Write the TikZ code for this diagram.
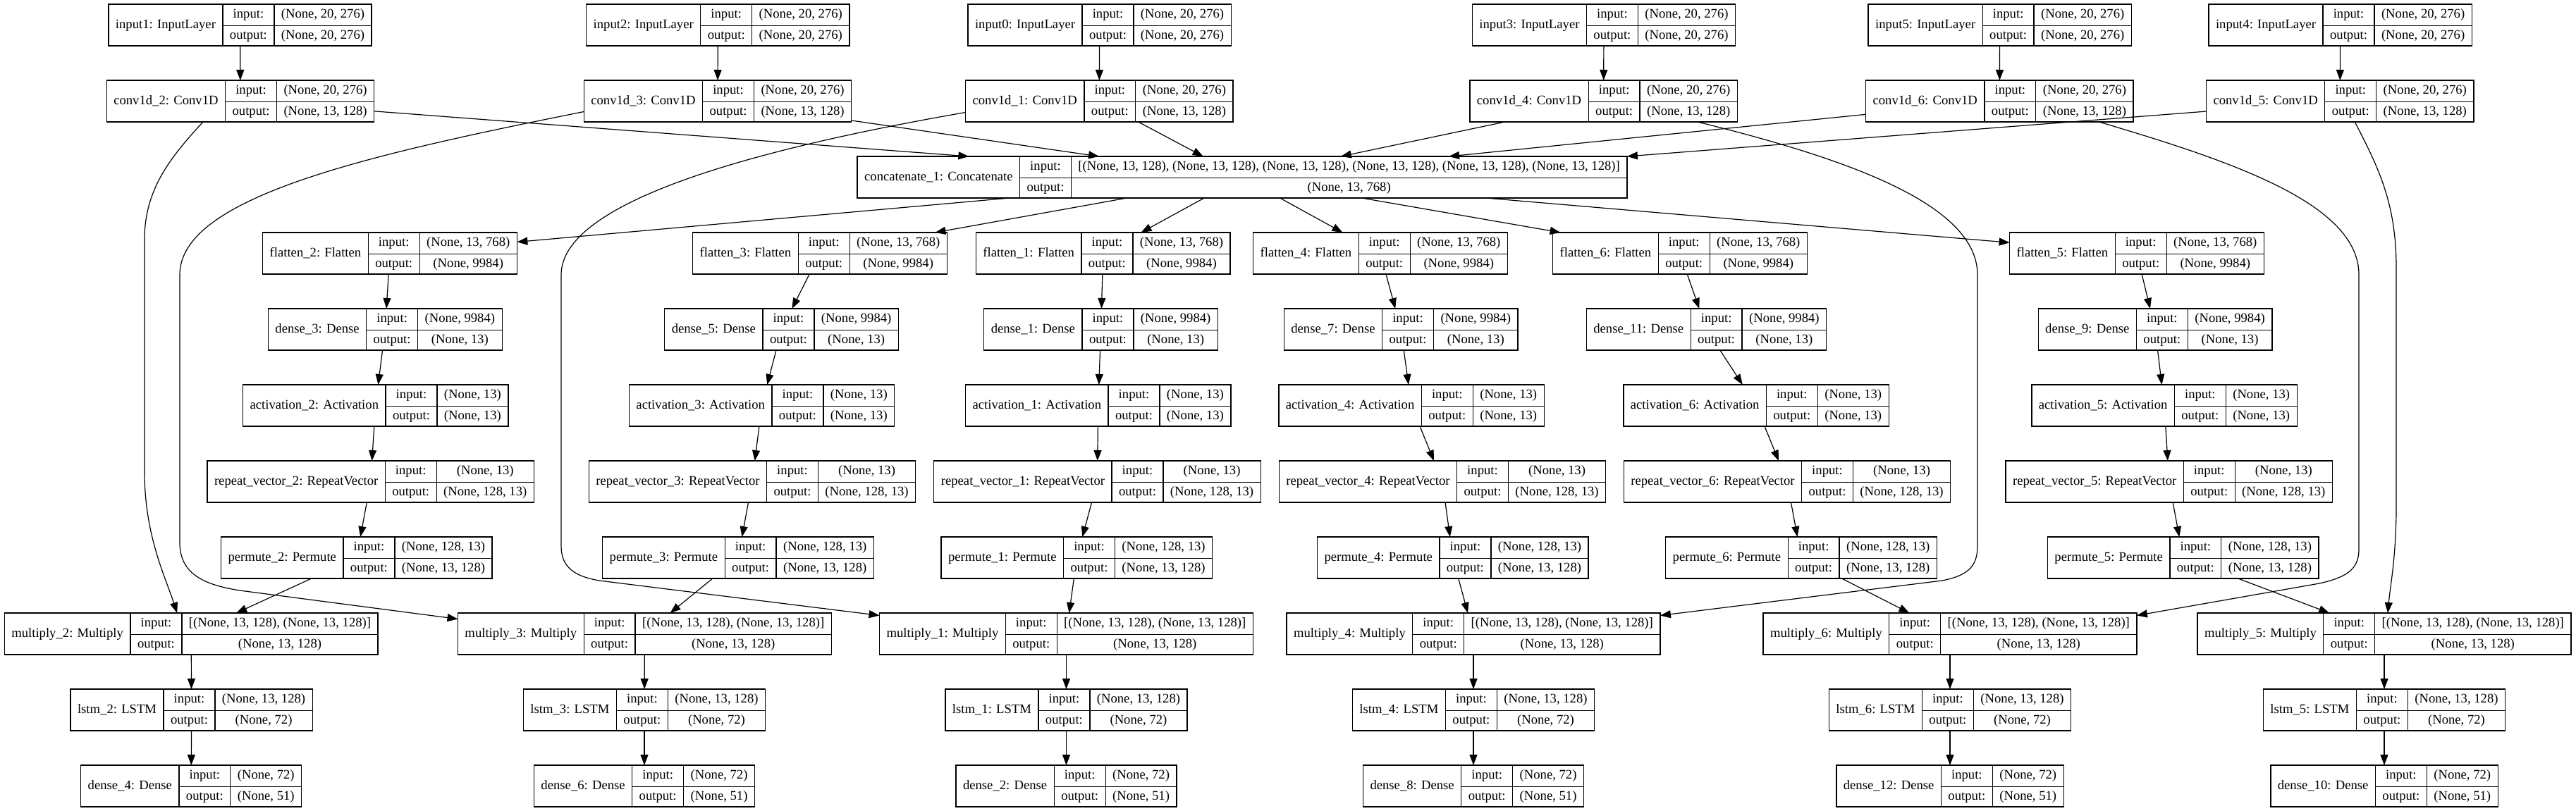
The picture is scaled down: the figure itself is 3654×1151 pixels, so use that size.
\documentclass[tikz,border=0pt]{standalone}
\usepackage{fontspec}
\setmainfont{Liberation Serif}
\usetikzlibrary{arrows.meta}

\setlength\tabcolsep{10pt}
\setlength\arrayrulewidth{1.3pt}
\newcommand\cellfont{\fontsize{18.67pt}{22pt}\selectfont}
\newcommand\rowstrut{\rule[-10pt]{0pt}{29.5pt}}

\tikzset{
    record/.style={draw, line width=1.3pt, inner sep=0pt, outer sep=0pt, font=\cellfont},
    edge/.style={line width=1.2pt, -{Triangle[length=15pt,width=11pt]}},
}

% record node: name, centre x, top y, title, input shape, output shape
\newcommand\layer[6]{%
    \node[record, anchor=north] (#1) at (#2,#3) {%
        \begin{tabular}{c|c|c}
            \raisebox{-15pt}[0pt][0pt]{#4} & input: & #5\rowstrut\\ \cline{2-3}
             & output: & #6\rowstrut
        \end{tabular}};
}

\begin{document}
\begin{tikzpicture}[x=1pt, y=-1pt]
    \fill[white] (0,0) rectangle (3654,1151);
    \useasboundingbox (0,0) rectangle (3654,1151);

    \layer{in1}{340.5}{6}{input1: InputLayer}{(None, 20, 276)}{(None, 20, 276)}
    \layer{in2}{1018.3}{6}{input2: InputLayer}{(None, 20, 276)}{(None, 20, 276)}
    \layer{in0}{1559.6}{6}{input0: InputLayer}{(None, 20, 276)}{(None, 20, 276)}
    \layer{in3}{2275}{6}{input3: InputLayer}{(None, 20, 276)}{(None, 20, 276)}
    \layer{in5}{2836.7}{6}{input5: InputLayer}{(None, 20, 276)}{(None, 20, 276)}
    \layer{in4}{3319.6}{6}{input4: InputLayer}{(None, 20, 276)}{(None, 20, 276)}

    \layer{conv2}{341}{114}{conv1d\_2: Conv1D}{(None, 20, 276)}{(None, 13, 128)}
    \layer{conv3}{1018}{114}{conv1d\_3: Conv1D}{(None, 20, 276)}{(None, 13, 128)}
    \layer{conv1}{1559.3}{114}{conv1d\_1: Conv1D}{(None, 20, 276)}{(None, 13, 128)}
    \layer{conv4}{2274.6}{114}{conv1d\_4: Conv1D}{(None, 20, 276)}{(None, 13, 128)}
    \layer{conv6}{2836.3}{114}{conv1d\_6: Conv1D}{(None, 20, 276)}{(None, 13, 128)}
    \layer{conv5}{3319.2}{114}{conv1d\_5: Conv1D}{(None, 20, 276)}{(None, 13, 128)}

    \layer{concat}{1762}{222}{concatenate\_1: Concatenate}{[(None, 13, 128), (None, 13, 128), (None, 13, 128), (None, 13, 128), (None, 13, 128), (None, 13, 128)]}{(None, 13, 768)}

    \layer{flat2}{553}{330}{flatten\_2: Flatten}{(None, 13, 768)}{(None, 9984)}
    \layer{flat3}{1163}{330}{flatten\_3: Flatten}{(None, 13, 768)}{(None, 9984)}
    \layer{flat1}{1564.7}{330}{flatten\_1: Flatten}{(None, 13, 768)}{(None, 9984)}
    \layer{flat4}{1958}{330}{flatten\_4: Flatten}{(None, 13, 768)}{(None, 9984)}
    \layer{flat6}{2383}{330}{flatten\_6: Flatten}{(None, 13, 768)}{(None, 9984)}
    \layer{flat5}{3031}{330}{flatten\_5: Flatten}{(None, 13, 768)}{(None, 9984)}

    \layer{dense3}{546.3}{438}{dense\_3: Dense}{(None, 9984)}{(None, 13)}
    \layer{dense5}{1108.6}{438}{dense\_5: Dense}{(None, 9984)}{(None, 13)}
    \layer{dense1}{1561.6}{438}{dense\_1: Dense}{(None, 9984)}{(None, 13)}
    \layer{dense7}{1987.2}{438}{dense\_7: Dense}{(None, 9984)}{(None, 13)}
    \layer{dense11}{2420.5}{438}{dense\_11: Dense}{(None, 9984)}{(None, 13)}
    \layer{dense9}{3057}{438}{dense\_9: Dense}{(None, 9984)}{(None, 13)}

    \layer{act2}{532.7}{546}{activation\_2: Activation}{(None, 13)}{(None, 13)}
    \layer{act3}{1080.6}{546}{activation\_3: Activation}{(None, 13)}{(None, 13)}
    \layer{act1}{1557.7}{546}{activation\_1: Activation}{(None, 13)}{(None, 13)}
    \layer{act4}{2002}{546}{activation\_4: Activation}{(None, 13)}{(None, 13)}
    \layer{act6}{2491}{546}{activation\_6: Activation}{(None, 13)}{(None, 13)}
    \layer{act5}{3070}{546}{activation\_5: Activation}{(None, 13)}{(None, 13)}

    \layer{rep2}{525.7}{654}{repeat\_vector\_2: RepeatVector}{(None, 13)}{(None, 128, 13)}
    \layer{rep3}{1067}{654}{repeat\_vector\_3: RepeatVector}{(None, 13)}{(None, 128, 13)}
    \layer{rep1}{1556.5}{654}{repeat\_vector\_1: RepeatVector}{(None, 13)}{(None, 128, 13)}
    \layer{rep4}{2046}{654}{repeat\_vector\_4: RepeatVector}{(None, 13)}{(None, 128, 13)}
    \layer{rep6}{2535}{654}{repeat\_vector\_6: RepeatVector}{(None, 13)}{(None, 128, 13)}
    \layer{rep5}{3076.7}{654}{repeat\_vector\_5: RepeatVector}{(None, 13)}{(None, 128, 13)}

    \layer{perm2}{505.8}{762}{permute\_2: Permute}{(None, 128, 13)}{(None, 13, 128)}
    \layer{perm3}{1047}{762}{permute\_3: Permute}{(None, 128, 13)}{(None, 13, 128)}
    \layer{perm1}{1527.4}{762}{permute\_1: Permute}{(None, 128, 13)}{(None, 13, 128)}
    \layer{perm4}{2060.8}{762}{permute\_4: Permute}{(None, 128, 13)}{(None, 13, 128)}
    \layer{perm6}{2555}{762}{permute\_6: Permute}{(None, 128, 13)}{(None, 13, 128)}
    \layer{perm5}{3096.7}{762}{permute\_5: Permute}{(None, 128, 13)}{(None, 13, 128)}

    \layer{mul2}{271.2}{870}{multiply\_2: Multiply}{[(None, 13, 128), (None, 13, 128)]}{(None, 13, 128)}
    \layer{mul3}{914.4}{870}{multiply\_3: Multiply}{[(None, 13, 128), (None, 13, 128)]}{(None, 13, 128)}
    \layer{mul1}{1512.5}{870}{multiply\_1: Multiply}{[(None, 13, 128), (None, 13, 128)]}{(None, 13, 128)}
    \layer{mul4}{2090}{870}{multiply\_4: Multiply}{[(None, 13, 128), (None, 13, 128)]}{(None, 13, 128)}
    \layer{mul6}{2766}{870}{multiply\_6: Multiply}{[(None, 13, 128), (None, 13, 128)]}{(None, 13, 128)}
    \layer{mul5}{3382}{870}{multiply\_5: Multiply}{[(None, 13, 128), (None, 13, 128)]}{(None, 13, 128)}

    \layer{lstm2}{271.6}{978}{lstm\_2: LSTM}{(None, 13, 128)}{(None, 72)}
    \layer{lstm3}{914}{978}{lstm\_3: LSTM}{(None, 13, 128)}{(None, 72)}
    \layer{lstm1}{1512.5}{978}{lstm\_1: LSTM}{(None, 13, 128)}{(None, 72)}
    \layer{lstm4}{2090}{978}{lstm\_4: LSTM}{(None, 13, 128)}{(None, 72)}
    \layer{lstm6}{2766}{978}{lstm\_6: LSTM}{(None, 13, 128)}{(None, 72)}
    \layer{lstm5}{3382}{978}{lstm\_5: LSTM}{(None, 13, 128)}{(None, 72)}

    \layer{dense4}{271.2}{1086}{dense\_4: Dense}{(None, 72)}{(None, 51)}
    \layer{dense6}{914}{1086}{dense\_6: Dense}{(None, 72)}{(None, 51)}
    \layer{dense2}{1512.5}{1086}{dense\_2: Dense}{(None, 72)}{(None, 51)}
    \layer{dense8}{2090}{1086}{dense\_8: Dense}{(None, 72)}{(None, 51)}
    \layer{dense12}{2766}{1086}{dense\_12: Dense}{(None, 72)}{(None, 51)}
    \layer{dense10}{3382}{1086}{dense\_10: Dense}{(None, 72)}{(None, 51)}

    % inputs into convolutions
    \draw[edge] (in1) -- (conv2);
    \draw[edge] (in2) -- (conv3);
    \draw[edge] (in0) -- (conv1);
    \draw[edge] (in3) -- (conv4);
    \draw[edge] (in5) -- (conv6);
    \draw[edge] (in4) -- (conv5);

    % convolutions into the concatenation
    \draw[edge] (conv2) -- (concat);
    \draw[edge] (conv3) -- (concat);
    \draw[edge] (conv1) -- (concat);
    \draw[edge] (conv4) -- (concat);
    \draw[edge] (conv6) -- (concat);
    \draw[edge] (conv5) -- (concat.north east);

    \draw[edge] (concat) -- (flat2);
    \draw[edge] (concat) -- (flat3);
    \draw[edge] (concat) -- (flat1);
    \draw[edge] (concat) -- (flat4);
    \draw[edge] (concat) -- (flat6);
    \draw[edge] (concat) -- (flat5);

    % attention branches
    \draw[edge] (flat2) -- (dense3);
    \draw[edge] (dense3) -- (act2);
    \draw[edge] (act2) -- (rep2);
    \draw[edge] (rep2) -- (perm2);
    \draw[edge] (perm2) -- (mul2);
    \draw[edge] (mul2) -- (lstm2);
    \draw[edge] (lstm2) -- (dense4);

    \draw[edge] (flat3) -- (dense5);
    \draw[edge] (dense5) -- (act3);
    \draw[edge] (act3) -- (rep3);
    \draw[edge] (rep3) -- (perm3);
    \draw[edge] (perm3) -- (mul3);
    \draw[edge] (mul3) -- (lstm3);
    \draw[edge] (lstm3) -- (dense6);

    \draw[edge] (flat1) -- (dense1);
    \draw[edge] (dense1) -- (act1);
    \draw[edge] (act1) -- (rep1);
    \draw[edge] (rep1) -- (perm1);
    \draw[edge] (perm1) -- (mul1);
    \draw[edge] (mul1) -- (lstm1);
    \draw[edge] (lstm1) -- (dense2);

    \draw[edge] (flat4) -- (dense7);
    \draw[edge] (dense7) -- (act4);
    \draw[edge] (act4) -- (rep4);
    \draw[edge] (rep4) -- (perm4);
    \draw[edge] (perm4) -- (mul4);
    \draw[edge] (mul4) -- (lstm4);
    \draw[edge] (lstm4) -- (dense8);

    \draw[edge] (flat6) -- (dense11);
    \draw[edge] (dense11) -- (act6);
    \draw[edge] (act6) -- (rep6);
    \draw[edge] (rep6) -- (perm6);
    \draw[edge] (perm6) -- (mul6);
    \draw[edge] (mul6) -- (lstm6);
    \draw[edge] (lstm6) -- (dense12);

    \draw[edge] (flat5) -- (dense9);
    \draw[edge] (dense9) -- (act5);
    \draw[edge] (act5) -- (rep5);
    \draw[edge] (rep5) -- (perm5);
    \draw[edge] (perm5) -- (mul5);
    \draw[edge] (mul5) -- (lstm5);
    \draw[edge] (lstm5) -- (dense10);

    % skip connections from the convolutions to the multiplies
    \draw[edge] ([xshift=-53pt]conv2.south) .. controls (240,225) and (205,270) .. (205,340)
        -- (205,670) .. controls (205,760) and (235,820) .. ([xshift=-20pt]mul2.north);
    \draw[edge] ([yshift=-15pt]conv3.west) .. controls (520,220) and (255,280) .. (255,390)
        -- (255,770) .. controls (255,815) and (290,830) .. (340,838) -- ([yshift=21pt]mul3.west);
    \draw[edge] ([yshift=-16pt]conv1.west) .. controls (1050,215) and (796,290) .. (796,390)
        -- (796,775) .. controls (796,805) and (815,818) .. (850,824) -- ([yshift=26pt]mul1.west);
    \draw[edge] ([xshift=133pt]conv4.south) .. controls (2620,225) and (2805,290) .. (2805,390)
        -- (2805,775) .. controls (2805,805) and (2790,817) .. (2755,824) -- ([yshift=26pt]mul4.east);
    \draw[edge] ([xshift=141pt]conv6.south) .. controls (3170,230) and (3346,290) .. (3346,390)
        -- (3346,780) .. controls (3346,810) and (3325,820) .. (3290,828) -- ([yshift=26pt]mul6.east);
    \draw[edge] ([xshift=21pt]conv5.south) .. controls (3375,240) and (3399,290) .. (3399,380)
        -- (3399,720) .. controls (3399,790) and (3390,835) .. ([xshift=5pt]mul5.north);
\end{tikzpicture}
\end{document}
